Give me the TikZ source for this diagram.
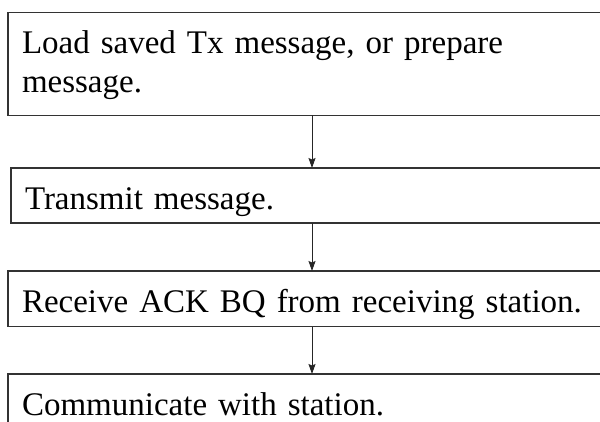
\documentclass[tikz,border=0pt]{standalone}
\usepackage{fontspec}
\setmainfont{Liberation Serif}
\usetikzlibrary{arrows.meta}
\begin{document}
\begin{tikzpicture}[x=1pt,y=1pt,
  stepbox/.style={draw=black!80, line width=1.3pt, anchor=north west, outer sep=0pt,
    inner xsep=14pt, inner ysep=0pt, text width=620pt, align=left,
    font=\fontsize{33}{39}\selectfont, text height=41pt},
  arr/.style={draw=black!85, line width=0.9pt, -{Stealth[length=10pt,width=7pt,inset=1.5pt]}}]
\useasboundingbox (0,0) rectangle (600,-421);
\node[stepbox, text depth=61.7pt] (b1) at (8,-12.7) {Load saved Tx message, or prepare\\message.};
\node[stepbox, text depth=14pt] (b2) at (11,-168) {Transmit message.};
\node[stepbox, text depth=14.5pt] (b3) at (8,-271) {Receive ACK BQ from receiving station.};
\node[stepbox, text depth=14pt] (b4) at (8,-374) {Communicate with station.};
\coordinate (ax) at (312,0);
\draw[arr] (b1.south -| ax) -- (b2.north -| ax);
\draw[arr] (b2.south -| ax) -- (b3.north -| ax);
\draw[arr] (b3.south -| ax) -- (b4.north -| ax);
\end{tikzpicture}
\end{document}
